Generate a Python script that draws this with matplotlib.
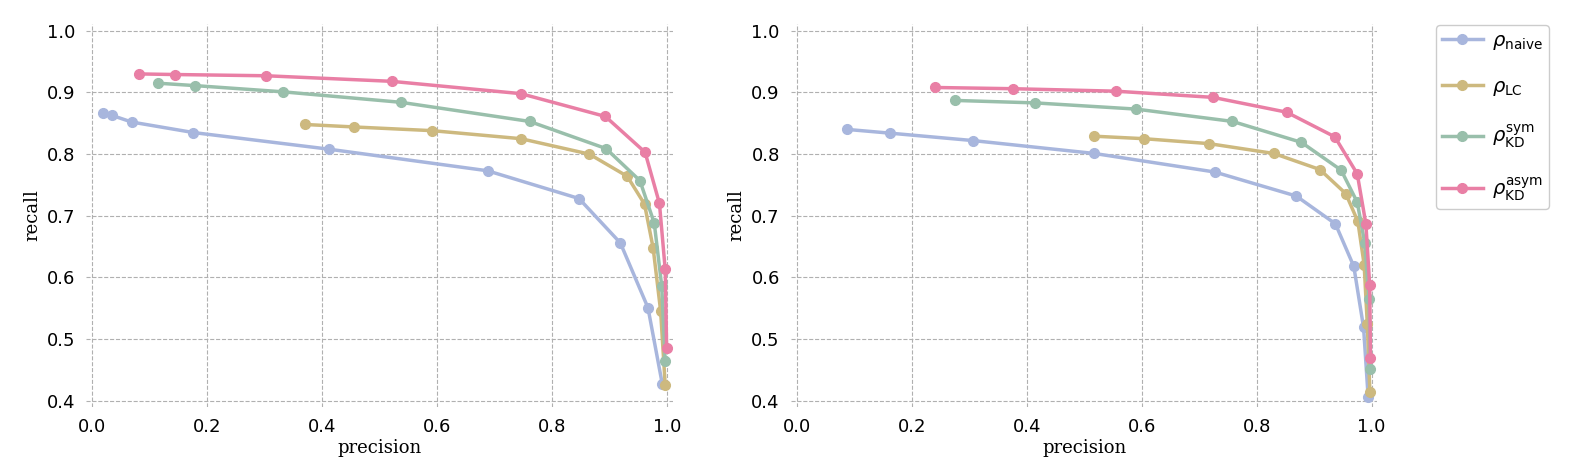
import numpy as np
import matplotlib
matplotlib.use('Agg')
import matplotlib.pyplot as plt

# left panel
l_naive_p = [0.020, 0.034, 0.069, 0.176, 0.412, 0.688, 0.847, 0.919, 0.967, 0.992]
l_naive_r = [0.867, 0.863, 0.852, 0.835, 0.808, 0.773, 0.728, 0.656, 0.551, 0.427]
l_lc_p = [0.371, 0.456, 0.592, 0.746, 0.865, 0.931, 0.961, 0.976, 0.989, 0.997]
l_lc_r = [0.848, 0.844, 0.838, 0.825, 0.800, 0.764, 0.719, 0.648, 0.546, 0.426]
l_sym_p = [0.114, 0.180, 0.332, 0.537, 0.761, 0.894, 0.953, 0.978, 0.991, 0.997]
l_sym_r = [0.915, 0.911, 0.901, 0.884, 0.853, 0.809, 0.757, 0.688, 0.586, 0.465]
l_asym_p = [0.081, 0.145, 0.303, 0.521, 0.746, 0.893, 0.962, 0.987, 0.997, 0.9995]
l_asym_r = [0.930, 0.929, 0.927, 0.918, 0.898, 0.861, 0.803, 0.720, 0.613, 0.486]

# right panel
r_naive_p = [0.088, 0.162, 0.306, 0.518, 0.727, 0.869, 0.937, 0.969, 0.986, 0.994]
r_naive_r = [0.840, 0.834, 0.822, 0.801, 0.771, 0.732, 0.687, 0.618, 0.519, 0.406]
r_lc_p = [0.518, 0.604, 0.717, 0.830, 0.910, 0.955, 0.976, 0.987, 0.9925, 0.997]
r_lc_r = [0.829, 0.825, 0.817, 0.801, 0.775, 0.736, 0.691, 0.621, 0.524, 0.415]
r_sym_p = [0.276, 0.415, 0.590, 0.758, 0.878, 0.947, 0.975, 0.988, 0.9955, 0.998]
r_sym_r = [0.887, 0.883, 0.873, 0.853, 0.819, 0.774, 0.722, 0.656, 0.565, 0.451]
r_asym_p = [0.241, 0.377, 0.555, 0.724, 0.852, 0.936, 0.975, 0.990, 0.9967, 0.998]
r_asym_r = [0.908, 0.906, 0.902, 0.892, 0.868, 0.828, 0.768, 0.687, 0.587, 0.470]

labels = [r'$\rho_{\mathrm{naive}}$', r'$\rho_{\mathrm{LC}}$',
          r'$\rho_{\mathrm{KD}}^{\mathrm{sym}}$', r'$\rho_{\mathrm{KD}}^{\mathrm{asym}}$']
colors = ['#a8b6dd', '#cdb97f', '#99bfab', '#e97fa5']

panels = [
    [(l_naive_p, l_naive_r), (l_lc_p, l_lc_r), (l_sym_p, l_sym_r), (l_asym_p, l_asym_r)],
    [(r_naive_p, r_naive_r), (r_lc_p, r_lc_r), (r_sym_p, r_sym_r), (r_asym_p, r_asym_r)],
]

fig = plt.figure(figsize=(15.85, 4.66), dpi=100)
ax1 = fig.add_axes([0.0544, 0.1266, 0.370, 0.822])
ax2 = fig.add_axes([0.499, 0.1266, 0.370, 0.822])

for ax, series in zip([ax1, ax2], panels):
    for (p, r), c, lab in zip(series, colors, labels):
        ax.plot(p, r, '-o', color=c, lw=2.5, ms=7, label=lab)
    ax.set_xlim(-0.01, 1.01)
    ax.set_ylim(0.39, 1.011)
    ax.set_xticks(np.arange(0, 1.01, 0.2))
    ax.set_yticks(np.arange(0.4, 1.01, 0.1))
    ax.grid(True, linestyle='--', color='#b0b0b0', lw=0.8)
    for s in ax.spines.values():
        s.set_visible(False)
    ax.tick_params(length=0, labelsize=13, pad=8)
    ax.set_xlabel('precision', family='serif', fontsize=13, labelpad=2)
    ax.set_ylabel('recall', family='serif', fontsize=13, labelpad=4)

h, l = ax1.get_legend_handles_labels()
fig.legend(h, l, loc='upper left', bbox_to_anchor=(0.906, 0.947), borderaxespad=0,
           fontsize=14, labelspacing=1.3, handlelength=2.1, handletextpad=0.5,
           borderpad=0.3, framealpha=1, edgecolor='#cccccc')

fig.savefig('out.png', dpi=100)
